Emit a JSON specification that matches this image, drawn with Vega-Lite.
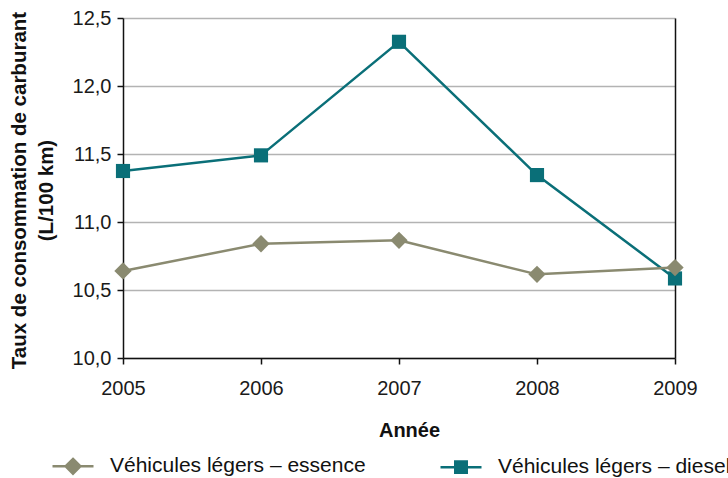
{
  "$schema": "https://vega.github.io/schema/vega-lite/v6.json",
  "width": 552,
  "height": 340,
  "autosize": {"type": "none"},
  "padding": {"left": 123, "top": 18, "right": 53, "bottom": 120},
  "config": {
    "font": "Liberation Sans",
    "view": {"stroke": null},
    "axis": {"labelFont": "Liberation Sans", "titleFont": "Liberation Sans", "labelColor": "#1a1a1a", "titleColor": "#111"}
  },
  "data": {
    "values": [
      {"annee": 2005, "serie": "Véhicules légers – diesel", "taux": 11.375},
      {"annee": 2006, "serie": "Véhicules légers – diesel", "taux": 11.49},
      {"annee": 2007, "serie": "Véhicules légers – diesel", "taux": 12.325},
      {"annee": 2008, "serie": "Véhicules légers – diesel", "taux": 11.345},
      {"annee": 2009, "serie": "Véhicules légers – diesel", "taux": 10.585},
      {"annee": 2005, "serie": "Véhicules légers – essence", "taux": 10.64},
      {"annee": 2006, "serie": "Véhicules légers – essence", "taux": 10.84},
      {"annee": 2007, "serie": "Véhicules légers – essence", "taux": 10.865},
      {"annee": 2008, "serie": "Véhicules légers – essence", "taux": 10.615},
      {"annee": 2009, "serie": "Véhicules légers – essence", "taux": 10.665}
    ]
  },
  "resolve": {"axis": {"y": "independent"}},
  "layer": [
    {
      "mark": {"type": "line", "strokeWidth": 2.5},
      "encoding": {
        "x": {
          "field": "annee", "type": "quantitative",
          "scale": {"domain": [2005, 2009], "nice": false, "zero": false},
          "axis": {
            "values": [2005, 2006, 2007, 2008, 2009], "format": "d", "grid": false,
            "domainColor": "#111", "domainWidth": 1.5, "tickColor": "#111", "tickWidth": 1.5, "tickSize": 6,
            "labelFontSize": 20, "labelPadding": 14, "labelFlush": false,
            "title": "Année", "titleFontSize": 20, "titleFontWeight": "bold",
            "titleX": 286, "titleY": 72, "titleBaseline": "middle"
          }
        },
        "y": {
          "field": "taux", "type": "quantitative",
          "scale": {"domain": [10, 12.5], "nice": false, "zero": false},
          "axis": {
            "values": [10, 10.5, 11, 11.5, 12, 12.5],
            "labelExpr": "replace(format(datum.value, '.1f'), '.', ',')",
            "grid": true, "gridColor": "#b3b3b3", "gridWidth": 1.5,
            "domainColor": "#111", "domainWidth": 1.5, "tickColor": "#111", "tickWidth": 1.5, "tickSize": 6,
            "labelFontSize": 20, "labelPadding": 6,
            "title": ["Taux de consommation de carburant", "(L/100 km)"],
            "titleFontSize": 20.5, "titleFontWeight": "bold", "titleLineHeight": 27,
            "titleAngle": -90, "titleX": -114, "titleY": 172, "titleBaseline": "top", "titleAlign": "center"
          }
        },
        "color": {
          "field": "serie", "type": "nominal",
          "scale": {"domain": ["Véhicules légers – essence", "Véhicules légers – diesel"], "range": ["#8a8a70", "#0a6f78"]},
          "legend": {
            "orient": "none", "direction": "horizontal", "legendX": -72, "legendY": 426,
            "title": null, "labelFontSize": 21, "labelColor": "#111", "labelOffset": 15, "labelLimit": 0,
            "columnPadding": 69, "symbolSize": 1681, "symbolStrokeWidth": 2.5, "symbolType": "M-1,0H1",
            "encode": {
              "symbols": {
                "update": {
                  "shape": {"signal": "indexof(datum.value, 'essence') >= 0 ? 'M-1,0H1M0,-0.36L0.36,0L0,0.36L-0.36,0Z' : 'M-1,0H1M-0.28,-0.28H0.28V0.28H-0.28Z'"},
                  "fill": {"signal": "indexof(datum.value, 'essence') >= 0 ? '#8a8a70' : '#0a6f78'"},
                  "stroke": {"signal": "indexof(datum.value, 'essence') >= 0 ? '#8a8a70' : '#0a6f78'"},
                  "strokeWidth": {"value": 2.5},
                  "opacity": {"value": 1}
                }
              }
            }
          }
        }
      }
    },
    {
      "transform": [{"filter": "indexof(datum.serie, 'diesel') >= 0"}],
      "mark": {"type": "point", "filled": true, "opacity": 1, "shape": "square", "size": 200},
      "encoding": {
        "x": {"field": "annee", "type": "quantitative"},
        "y": {
          "field": "taux", "type": "quantitative",
          "axis": {"orient": "right", "labels": false, "ticks": false, "grid": false, "title": null, "domainColor": "#111", "domainWidth": 1.5}
        },
        "color": {"field": "serie", "type": "nominal"}
      }
    },
    {
      "transform": [{"filter": "indexof(datum.serie, 'essence') >= 0"}],
      "mark": {"type": "point", "filled": true, "opacity": 1, "shape": "diamond", "size": 300},
      "encoding": {
        "x": {"field": "annee", "type": "quantitative"},
        "y": {"field": "taux", "type": "quantitative", "axis": null},
        "color": {"field": "serie", "type": "nominal"}
      }
    }
  ]
}
